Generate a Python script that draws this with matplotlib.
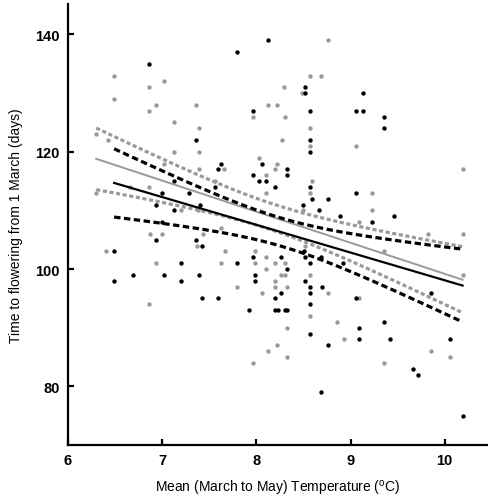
import matplotlib

matplotlib.use("Agg")
import matplotlib.pyplot as plt
import numpy as np

plt.rcParams["font.family"] = ["Liberation Sans", "DejaVu Sans"]
plt.rcParams["mathtext.fontset"] = "custom"
plt.rcParams["mathtext.rm"] = "Liberation Sans"

# ── data ────────────────────────────────────────────────────────────────────
black_temp = [6.86, 7.79, 8.12, 7.36, 7.96, 8.06, 7.63, 7.59, 7.96, 8.03,
              8.10, 8.20, 7.13, 7.00, 7.29, 7.56, 8.52, 8.52, 9.13, 8.57,
              9.06, 9.13, 9.36, 9.36, 8.57, 8.57, 8.33, 8.33, 8.57, 9.06,
              8.59, 8.76, 6.93, 7.13, 7.00, 6.93, 7.36, 7.42, 6.49, 7.20,
              6.49, 6.69, 7.02, 7.20, 7.39, 7.42, 7.59, 7.92, 8.20, 8.23,
              7.79, 7.99, 7.99, 8.20, 7.96, 7.40, 8.50, 8.67, 8.89, 8.51,
              8.52, 8.69, 8.92, 8.26, 8.33, 8.52, 8.57, 8.70, 8.57, 8.26,
              8.57, 8.30, 8.33, 8.57, 8.76, 8.69, 9.46, 9.23, 9.86, 9.06,
              9.36, 9.09, 9.09, 9.42, 10.06, 9.66, 9.72, 10.19, 8.57]
black_days = [135, 137, 139, 122, 127, 118, 118, 117, 116, 115,
              115, 114, 115, 113, 113, 114, 131, 130, 130, 127,
              127, 127, 126, 124, 122, 120, 117, 116, 114, 113,
              112, 112, 111, 110, 108, 105, 105, 104, 103, 101,
              98, 99, 99, 98, 99, 95, 95, 93, 93, 93,
              101, 99, 98, 95, 102, 111, 111, 110, 109, 103,
              102, 102, 101, 102, 100, 98, 97, 97, 96, 96,
              94, 93, 93, 89, 87, 79, 109, 108, 96, 95,
              91, 90, 88, 88, 88, 83, 82, 75, 101]

gray_temp = [6.49, 6.86, 7.02, 6.49, 6.86, 6.93, 7.13, 7.36, 7.39, 7.39,
             7.13, 6.30, 6.42, 7.96, 8.12, 8.22, 8.03, 8.22, 7.66, 8.10,
             7.02, 7.39, 6.86, 6.66, 8.10, 6.30, 8.76, 8.57, 8.69, 8.29,
             8.49, 8.30, 8.57, 8.27, 8.57, 9.06, 8.20, 8.59, 8.57, 9.23,
             10.19, 7.56, 7.20, 7.38, 6.87, 7.00, 7.37, 7.43, 6.40, 6.93,
             6.86, 8.12, 8.22, 7.63, 7.67, 7.79, 8.06, 8.10, 8.20, 8.20,
             7.99, 8.10, 7.99, 8.20, 7.63, 8.50, 8.52, 8.30, 8.26, 8.30,
             8.57, 8.33, 8.76, 8.57, 8.86, 8.33, 8.93, 8.33, 7.96, 9.23,
             9.09, 9.82, 10.19, 9.36, 10.19, 9.09, 9.86, 10.06, 9.36]
gray_days = [133, 131, 132, 129, 127, 128, 125, 128, 124, 120,
             120, 123, 122, 126, 128, 128, 119, 118, 117, 116,
             118, 117, 114, 114, 113, 113, 139, 133, 133, 131,
             130, 126, 124, 122, 121, 121, 117, 115, 113, 113,
             117, 115, 110, 110, 106, 106, 104, 106, 103, 101,
             94, 86, 87, 101, 103, 97, 96, 100, 98, 97,
             101, 102, 103, 101, 107, 110, 104, 101, 99, 99,
             99, 97, 96, 92, 91, 90, 88, 85, 84, 110,
             108, 106, 106, 103, 99, 95, 86, 85, 84]

# regression fits (centre of band, slope) and 95% band shape
black_fit = {"x0": 8.27, "y0": 106.27, "slope": -4.73, "ci_min": 2.4, "ci_grow": 2.98}
gray_fit = {"x0": 8.16, "y0": 108.94, "slope": -5.30, "ci_min": 2.25, "ci_grow": 2.55}

GRAY = "#9a9a9a"


def _fit_curves(temp, fit):
    x = np.linspace(min(temp), max(temp), 100)
    y = fit["y0"] + fit["slope"] * (x - fit["x0"])
    half = np.sqrt(fit["ci_min"] ** 2 + (fit["ci_grow"] * (x - fit["x0"])) ** 2)
    return x, y, y - half, y + half


fig = plt.figure(figsize=(4.88, 5.02), dpi=100)
ax = fig.add_axes([68 / 488, 56 / 502, 420 / 488, 441 / 502])

ax.scatter(gray_temp, gray_days, s=10, color=GRAY, linewidths=0, zorder=2)
ax.scatter(black_temp, black_days, s=10, color="black", linewidths=0, zorder=2)

# gray group fit
x, y, lo, hi = _fit_curves(gray_temp, gray_fit)
ax.plot(x, y, color=GRAY, lw=1.4, zorder=3)
for band in (lo, hi):
    ax.plot(x, band, color=GRAY, lw=2.3, dashes=(1.3, 0.8), zorder=3)

# black group fit
x, y, lo, hi = _fit_curves(black_temp, black_fit)
ax.plot(x, y, color="black", lw=1.6, zorder=4)
for band in (lo, hi):
    ax.plot(x, band, color="black", lw=2.3, dashes=(2.0, 1.1), zorder=4)

ax.set_xlim(6, 10.46)
ax.set_ylim(70, 145.2)
ax.set_xticks([6, 7, 8, 9, 10])
ax.set_yticks([80, 100, 120, 140])
ax.spines["top"].set_visible(False)
ax.spines["right"].set_visible(False)
ax.spines["left"].set_linewidth(1.6)
ax.spines["bottom"].set_linewidth(1.6)
ax.tick_params(direction="in", length=4.5, width=1.6, pad=6)
for lab in ax.get_xticklabels() + ax.get_yticklabels():
    lab.set_fontweight("bold")
    lab.set_fontsize(10.5)

ax.set_xlabel(r"Mean (March to May) Temperature ($^{\rm o}$C)", fontsize=10, labelpad=8)
ax.set_ylabel("Time to flowering from 1 March (days)", fontsize=10, labelpad=9)

fig.savefig("out.png", dpi=100)
plt.close(fig)
